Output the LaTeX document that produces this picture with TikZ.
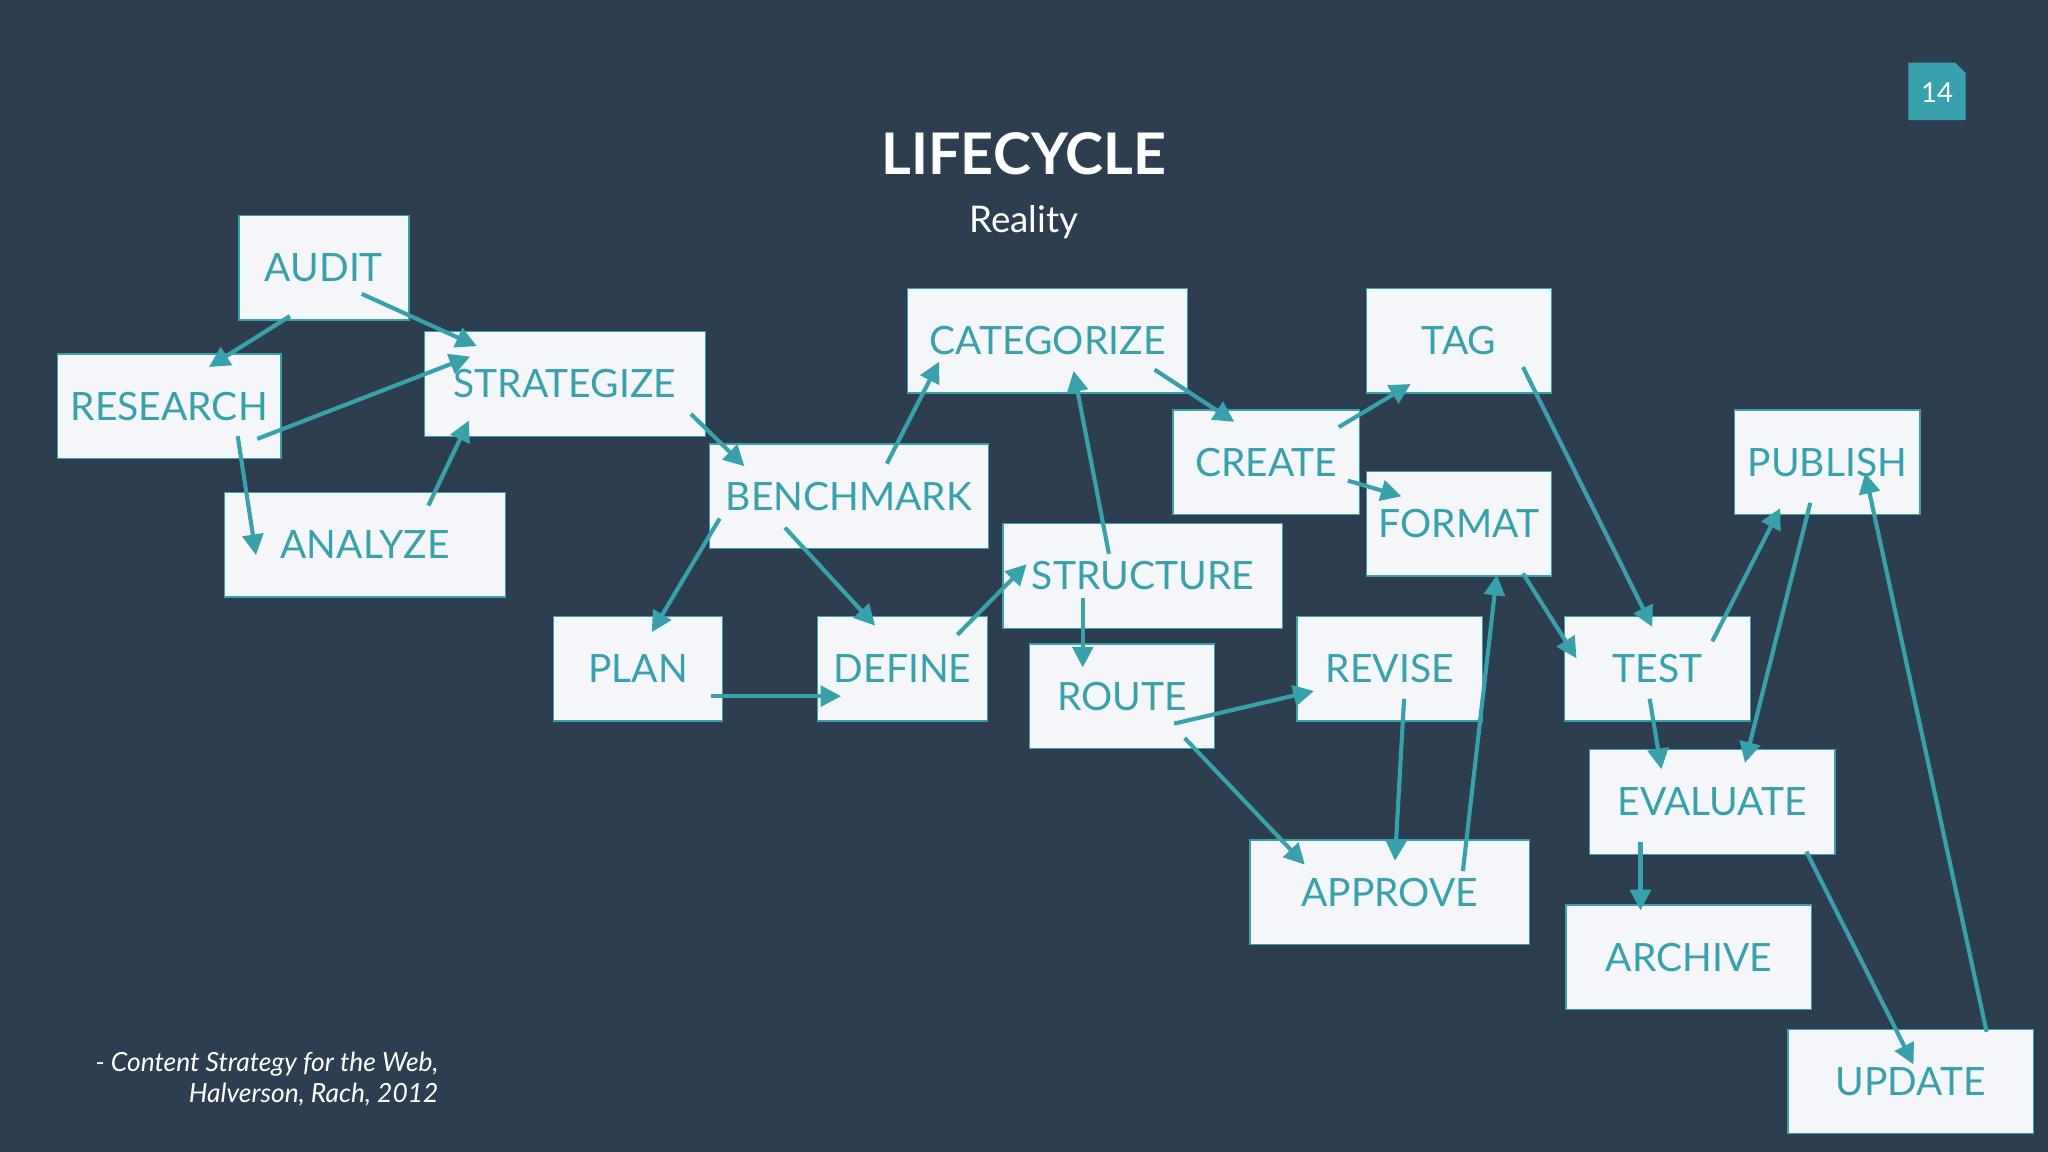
\documentclass[tikz,border=0pt]{standalone}
\usepackage{fontspec}
\setmainfont{Lato}
\usetikzlibrary{arrows.meta}
\definecolor{bgc}{HTML}{2D3E50}
\definecolor{teal}{HTML}{38A1AC}
\definecolor{boxc}{HTML}{F4F6FA}
\tikzset{
 box/.style={draw=teal, line width=0.6pt, fill=boxc, text=teal, font=\fontsize{17}{20}\selectfont, inner sep=0pt},
 arr/.style={draw=teal, line width=1.8pt, -{Triangle[length=9pt,width=9pt]}}
}
\newcommand\bx[6]{\node[box, minimum width={(#4-#2)*0.02cm}, minimum height={(#5-#3)*0.02cm}] (#1) at ({(#2+#4)/2},{(#3+#5)/2}) {#6};}
\newcommand\conn[6]{\draw[arr] ([shift={(#2,#3)}]#1.center) -- ([shift={(#5,#6)}]#4.center);}
\begin{document}
\begin{tikzpicture}[x=0.02cm,y=-0.02cm]
\fill[bgc] (0,0) rectangle (1568,882);
\useasboundingbox (0,0) rectangle (1568,882);
% page number
\fill[teal] (1461,48) -- (1497,48) -- (1505,56) -- (1505,92) -- (1461,92) -- cycle;
\node[text=white, font=\fontsize{12}{14}\selectfont] (pg) at (1483,71) {14};
\node[text=white, font=\bfseries\fontsize{25}{30}\selectfont] (title) at (784,118) {LIFECYCLE};
\node[text=white, font=\fontsize{16}{19}\selectfont] (sub) at (784,170) {Reality};
\node[text=white, font=\itshape\fontsize{11.5}{13.5}\selectfont, align=right, anchor=east, inner sep=0pt] (cite) at (336,826) {- Content Strategy for the Web,\\Halverson, Rach, 2012};
\bx{audit}{183}{165}{313}{245}{AUDIT}
\bx{research}{44}{271}{215}{351}{RESEARCH}
\bx{strat}{325}{254}{540}{334}{STRATEGIZE}
\bx{analyze}{172}{377}{387}{457}{ANALYZE}
\bx{bench}{543}{340}{757}{420}{BENCHMARK}
\bx{categ}{695}{221}{909}{301}{CATEGORIZE}
\bx{plan}{424}{472}{553}{552}{PLAN}
\bx{define}{626}{472}{756}{552}{DEFINE}
\bx{struct}{768}{401}{982}{481}{STRUCTURE}
\bx{route}{788}{493}{930}{573}{ROUTE}
\bx{create}{898}{314}{1041}{394}{CREATE}
\bx{tag}{1046}{221}{1188}{301}{TAG}
\bx{format}{1046}{361}{1188}{441}{FORMAT}
\bx{revise}{993}{472}{1135}{552}{REVISE}
\bx{approve}{957}{643}{1171}{723}{APPROVE}
\bx{test}{1198}{472}{1340}{552}{TEST}
\bx{publish}{1328}{314}{1470}{394}{PUBLISH}
\bx{evaluate}{1217}{574}{1405}{654}{EVALUATE}
\bx{archive}{1199}{693}{1387}{773}{ARCHIVE}
\bx{update}{1369}{788}{1557}{868}{UPDATE}
\conn{audit}{-26}{37}{research}{30.5}{-30}
\conn{audit}{29}{20}{strat}{-67.5}{-29}
\conn{research}{67.5}{25}{strat}{-72.5}{-21}
\conn{research}{52.5}{23}{analyze}{-83.5}{8}
\conn{analyze}{48.5}{-30}{strat}{-73.5}{28}
\conn{strat}{96.5}{23}{bench}{-80}{-23}
\conn{bench}{29}{-25}{categ}{-83}{16}
\conn{bench}{-99}{17}{plan}{10.5}{-28}
\conn{bench}{-49}{24}{define}{-21}{-33}
\conn{plan}{55.5}{21}{define}{-47}{21}
\conn{define}{42}{-26}{struct}{-89}{-9}
\conn{struct}{-26}{-17}{categ}{20}{23}
\conn{categ}{82}{22}{create}{-24.5}{-31}
\conn{struct}{-46}{17}{route}{-30}{-22}
\conn{create}{55.5}{-27}{tag}{-37}{33}
\conn{create}{62.5}{14}{format}{-44}{-21}
\conn{route}{40}{21}{revise}{-58}{17}
\conn{route}{48}{32}{approve}{-65}{-21}
\conn{revise}{11}{23}{approve}{4}{-24}
\conn{approve}{56}{-16}{format}{29}{39}
\conn{tag}{49}{20}{test}{-4}{-32}
\conn{format}{49}{38}{test}{-62}{-8}
\conn{test}{42}{-21}{publish}{-36}{35}
\conn{publish}{-13}{31}{evaluate}{25}{-30}
\conn{test}{-6}{23}{evaluate}{-39}{-25}
\conn{evaluate}{-55}{31}{archive}{-37}{-36}
\conn{evaluate}{72}{38}{update}{2}{-13}
\conn{update}{58}{-38}{publish}{29}{8}
\end{tikzpicture}
\end{document}
